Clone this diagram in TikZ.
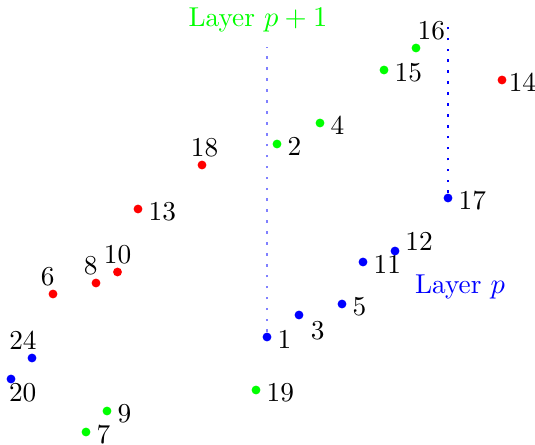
\documentclass[tikz,border=0pt]{standalone}
\definecolor{verdeCapa}{HTML}{00FF00}
\definecolor{rojoP}{HTML}{FF0000}
\definecolor{azulCapa}{HTML}{0000FF}

\begin{document}
\begin{tikzpicture}[x=0.01352cm,y=-0.01352cm,font=\fontsize{10.5pt}{12pt}\selectfont,
  pto/.style={circle,fill=#1,inner sep=0pt,minimum size=3.4pt,label distance=1pt},
  every label/.style={inner sep=1pt},
  etq/.style={label={[xshift=1pt,yshift=-1pt]right:#1}},
  guia/.style={line width=.8pt,dash pattern=on 1pt off 3.2pt}]
  \useasboundingbox (0,0) rectangle (535,445);
  \node[text=verdeCapa] (capaSup) at (258,20) {Layer $p+1$};
  \node[text=azulCapa] (capaInf) at (460,287) {Layer $p$};
  % capa p
  \node[pto=azulCapa,etq=1] (n1) at (267,337) {};
  \node[pto=azulCapa,label={[xshift=2pt]-45:3}] (n3) at (299,315) {};
  \node[pto=azulCapa,etq=5] (n5) at (342,304) {};
  \node[pto=azulCapa,etq=11] (n11) at (363,262) {};
  \node[pto=azulCapa,label={[xshift=1pt,yshift=-1.5pt]20:12}] (n12) at (395,251) {};
  \node[pto=azulCapa,etq=17] (n17) at (448,198) {};
  \node[pto=azulCapa,label={[xshift=4.5pt,yshift=1.5pt]below:20}] (n20) at (11,379) {};
  \node[pto=azulCapa,label={[xshift=-3.5pt]above:24}] (n24) at (32,358) {};
  % capa p+1
  \node[pto=verdeCapa,etq=2] (n2) at (277,144) {};
  \node[pto=verdeCapa,etq=4] (n4) at (320,123) {};
  \node[pto=verdeCapa,etq=7] (n7) at (86,432) {};
  \node[pto=verdeCapa,etq=9] (n9) at (107,411) {};
  \node[pto=verdeCapa,etq=15] (n15) at (384,70) {};
  \node[pto=verdeCapa,label={[xshift=-1.5pt]60:16}] (n16) at (416,48) {};
  \node[pto=verdeCapa,etq=19] (n19) at (256,390) {};
  % resto
  \node[pto=rojoP,label={[xshift=-2pt]above:6}] (n6) at (53,294) {};
  \node[pto=rojoP,label={[xshift=-2pt]above:8}] (n8) at (96,283) {};
  \node[pto=rojoP,label={above:10}] (n10) at (117.5,272) {};
  \node[pto=rojoP,etq=13] (n13) at (138,209) {};
  \node[pto=rojoP,label={[xshift=-.5pt,yshift=-1pt]right:14}] (n14) at (502,80) {};
  \node[pto=rojoP,label={[xshift=1pt]above:18}] (n18) at (202,165) {};
  % guias
  \coordinate (finSup) at (267,47);
  \coordinate (finInf) at (448,24);
  \draw[guia,azulCapa!50] (n1) -- (finSup);
  \draw[guia,azulCapa] (n17) -- (finInf);
\end{tikzpicture}
\end{document}
